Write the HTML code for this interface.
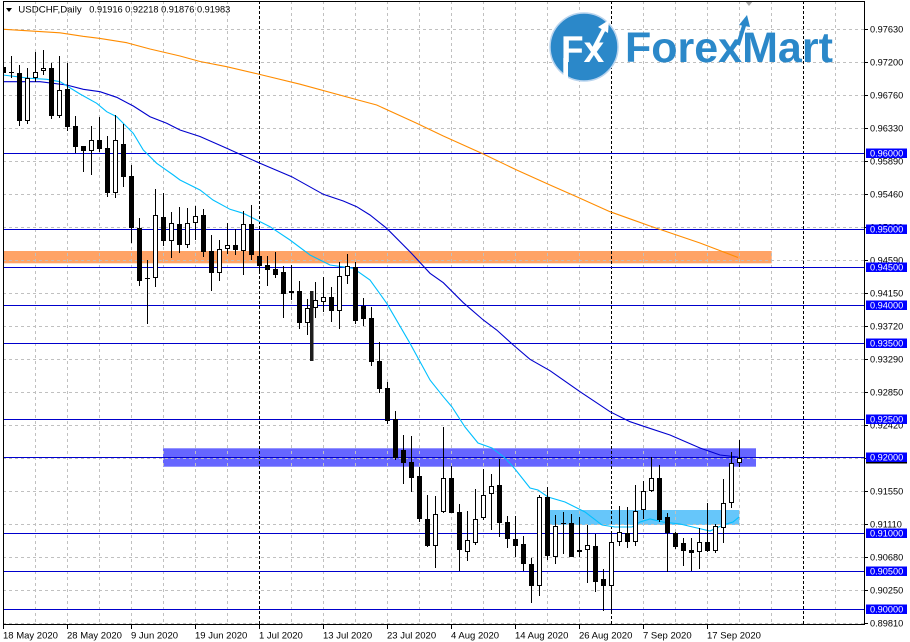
<!DOCTYPE html>
<html><head><meta charset="utf-8">
<style>
html,body{margin:0;padding:0;background:#fff;width:910px;height:642px;overflow:hidden;}
svg{display:block;}
text{font-family:"Liberation Sans",Arial,sans-serif;}
.ax{font-size:9.2px;fill:#000;}
.bl{font-size:9.2px;fill:#fff;}
.dt{font-size:9.5px;fill:#000;}
</style></head><body>
<svg id="c" width="910" height="642" viewBox="0 0 910 642" xmlns="http://www.w3.org/2000/svg">
<defs><clipPath id="pl"><rect x="4" y="2" width="860" height="622.5"/></clipPath></defs>
<rect x="0" y="0" width="910" height="642" fill="#fff"/>
<g clip-path="url(#pl)">
  <!-- bands -->
  <rect x="3" y="251" width="768.7" height="12.3" fill="#ffa366"/>
  <rect x="163" y="448.3" width="593" height="18.4" fill="#6666ff"/>
  <rect x="550" y="510" width="189.3" height="15" fill="#66c6fa"/>
  <g id="grid"></g>
  <g id="hl" stroke="#0000cc" stroke-width="1"></g>
  <!-- logo -->
  <circle cx="584" cy="47" r="34" fill="#2b88c9" stroke="#b9d4ee" stroke-width="1.5"/>
  <text x="561" y="62" font-size="37" font-weight="bold" fill="#fff">Fx</text>
  <rect x="563.3" y="58" width="4.7" height="24" fill="#fff"/>
  <line x1="592" y1="52" x2="604" y2="29" stroke="#fff" stroke-width="4"/>
  <polygon points="598,27 609,20 608,33" fill="#fff"/>
  <text x="625" y="62" font-size="43" font-weight="bold" fill="#2b88c9">ForexMart</text>
  <line x1="738" y1="45" x2="744.5" y2="24" stroke="#2b88c9" stroke-width="4"/>
  <polygon points="739,25 747,15 750,27" fill="#2b88c9"/>
  <polygon points="745,1 753,1 749,6" fill="#a8a8a8"/>
  <!-- moving averages -->
  <polyline fill="none" stroke="#ff8c00" stroke-width="1.1" points="3,29.3 40,31.6 60,32.8 83,36.3 100,38.4 126.7,42.7 150,49 180,56 200,61.5 226.7,66.7 258,74 300,84.2 358,100 376.7,105 416.7,123.3 443.3,136 483.3,154 516.7,170 550,185 576.7,196.7 610,211.7 650,226 700,243 738,257.5"/>
  <polyline fill="none" stroke="#0000cd" stroke-width="1.1" points="3,81.7 40,81.7 66.7,85 83.3,89.3 100,91.7 116.7,97.3 133.3,106 150,116.7 166.7,123.3 180,130 200,136.5 226.7,148.3 260,163.3 291.7,176.7 323.3,194.3 343.3,201 356.7,206.7 370,215 386.7,228.3 410,251.7 430,273.3 443.3,282.7 463.3,302.7 483.3,320 496.7,330 513.3,345 530,359.3 550,370.7 580,391.7 610,411.7 630,421.7 646.7,427.3 670,435 700,448 720,455 738,457"/>
  <polyline fill="none" stroke="#00bfff" stroke-width="1.1" points="3,75 30,78.3 46.7,79.3 60,81.7 80,94 96.7,103.3 106.7,111.7 116.7,116.7 133.3,133.3 143.3,150 156.7,163.3 173.3,175 180,180 200,190 213,200 230,209.3 243.3,213.3 270,226.7 290,240 310,255 330,265 353.3,268.3 370,280 386.7,303.3 410,343.3 430,380 443.3,396.7 452,407 465,427 478,443 492,448 505,458 515,469 530,488 538,490 548,497 565,502 585,512 602,525 615,527 632,527 640,522 650,519 663,522 680,524 697,528 710,531 723,525 733,522 739,517"/>
  <rect x="310" y="291" width="3.5" height="70" fill="#1e1e1e"/>
  <g id="cd"></g>
</g>
<!-- frame -->
<rect x="3.5" y="1.5" width="861" height="623" fill="none" stroke="#000" stroke-width="1"/>
<g id="ticks" stroke="#000" stroke-width="1"></g>
<!-- title -->
<polygon points="6,8 12,8 9,12" fill="#000"/>
<text x="18.3" y="12.7" font-size="9.5" fill="#000" textLength="63.4" lengthAdjust="spacingAndGlyphs">USDCHF,Daily</text>
<text x="89.3" y="12.7" font-size="9.5" fill="#000" textLength="141" lengthAdjust="spacingAndGlyphs">0.91916 0.92218 0.91876 0.91983</text>
<!-- right axis labels -->
<g class="ax">
<text x="870" y="32.5">0.97630</text>
<text x="870" y="65.5">0.97200</text>
<text x="870" y="98.5">0.96760</text>
<text x="870" y="131.5">0.96330</text>
<text x="870" y="164.5">0.95890</text>
<text x="870" y="197.5">0.95460</text>
<text x="870" y="230.5">0.95020</text>
<text x="870" y="263.5">0.94590</text>
<text x="870" y="296.5">0.94150</text>
<text x="870" y="329.5">0.93720</text>
<text x="870" y="362.5">0.93290</text>
<text x="870" y="395.5">0.92850</text>
<text x="870" y="428.5">0.92420</text>
<text x="870" y="461.5">0.91980</text>
<text x="870" y="494.5">0.91550</text>
<text x="870" y="527.5">0.91110</text>
<text x="870" y="560.5">0.90680</text>
<text x="870" y="593.5">0.90250</text>
<text x="870" y="626.5">0.89810</text>
</g>
<g fill="#0000ff">
<rect x="866" y="148.5" width="41" height="9.5"/>
<rect x="866" y="224.5" width="41" height="9.5"/>
<rect x="866" y="262.5" width="41" height="9.5"/>
<rect x="866" y="300.5" width="41" height="9.5"/>
<rect x="866" y="338.5" width="41" height="9.5"/>
<rect x="866" y="414.5" width="41" height="9.5"/>
<rect x="866" y="452.5" width="41" height="9.5"/>
<rect x="866" y="528.5" width="41" height="9.5"/>
<rect x="866" y="566.5" width="41" height="9.5"/>
<rect x="866" y="604.5" width="41" height="9.5"/>
</g>
<rect x="866" y="462" width="41" height="1.5" fill="#000"/>
<g class="bl">
<text x="870" y="156.5">0.96000</text>
<text x="870" y="232.5">0.95000</text>
<text x="870" y="270.5">0.94500</text>
<text x="870" y="308.5">0.94000</text>
<text x="870" y="346.5">0.93500</text>
<text x="870" y="422.5">0.92500</text>
<text x="870" y="460.5">0.92000</text>
<text x="870" y="536.5">0.91000</text>
<text x="870" y="574.5">0.90500</text>
<text x="870" y="612.5">0.90000</text>
</g>
<!-- date labels -->
<g class="dt">
<text x="3" y="638.5">18 May 2020</text>
<text x="67" y="638.5">28 May 2020</text>
<text x="131" y="638.5">9 Jun 2020</text>
<text x="195" y="638.5">19 Jun 2020</text>
<text x="259" y="638.5">1 Jul 2020</text>
<text x="323" y="638.5">13 Jul 2020</text>
<text x="387" y="638.5">23 Jul 2020</text>
<text x="451" y="638.5">4 Aug 2020</text>
<text x="515" y="638.5">14 Aug 2020</text>
<text x="579" y="638.5">26 Aug 2020</text>
<text x="643" y="638.5">7 Sep 2020</text>
<text x="707" y="638.5">17 Sep 2020</text>
</g>
</svg>
<script>
(function(){
var NS="http://www.w3.org/2000/svg";
function el(p,tag,a){var e=document.createElementNS(NS,tag);for(var k in a)e.setAttribute(k,a[k]);p.appendChild(e);return e;}
var grid=document.getElementById('grid');
var hrows=[29,62,95,128,161,194,227,260,293,326,359,392,425,458,491,524,557,590,623];
hrows.forEach(function(r){el(grid,'line',{x1:3,x2:864,y1:r+0.5,y2:r+0.5,stroke:'#c0c0c0','stroke-width':1,'stroke-dasharray':'3,3'});});
var seps={83:1,259:1,443:1,611:1,803:1};
for(var k=1;k<=26;k++){var x=3+32*k;
 if(seps[x]) el(grid,'line',{x1:x+0.5,x2:x+0.5,y1:1,y2:625,stroke:'#000','stroke-width':1,'stroke-dasharray':'3,2'});
 else el(grid,'line',{x1:x+0.5,x2:x+0.5,y1:1,y2:625,stroke:'#c0c0c0','stroke-width':1,'stroke-dasharray':'3,3'});
}
var hl=document.getElementById('hl');
[153,229,267,305,343,419,457,533,571,609].forEach(function(r){el(hl,'line',{x1:3,x2:865,y1:r+0.5,y2:r+0.5});});
var ticks=document.getElementById('ticks');
hrows.forEach(function(r){el(ticks,'line',{x1:864,x2:868,y1:r+0.5,y2:r+0.5});});
for(var j=0;j<12;j++){var tx=3+64*j+0.5;el(ticks,'line',{x1:tx,x2:tx,y1:625,y2:629});}
var C=[
[32,67,73,96,0],[56,71.5,72.5,78,0],[65,72.7,120.7,125.7,0],[68,78,120.7,124,1],[51.7,72,78,81.7,1],
[50,68,71,75,1],[63,68,115.7,119,0],[56,90,115.7,117.7,1],[62.7,89,126.7,131,0],[116,126,146.7,152.7,0],
[146,146,150.7,171.7,0],[126,140,150.7,175,1],[117,140,149,151.7,0],[136,148,192.7,196.7,0],[115,140,192.7,198.3,1],
[124,144,176.7,186.7,0],[165,176,227.7,243.3,0],[218,228,280.7,286,0],[260,277.7,279.3,324,0],[189,215,278.3,286.7,1],
[193,216.7,240.7,245.7,0],[211.7,223.3,240.7,258,1],[206.7,224,245,253.3,0],[208,223.3,245,248,1],[206,216,223.3,240,1],
[209,215,251.7,256.7,0],[235,251,272.7,290.7,0],[240,249.3,273.3,280.7,1],[223.3,245,249.3,254,1],[229.3,245,250,255,0],
[211,224,250.7,275,1],[205,224,255,260,0],[233.3,256,265.7,273.3,0],[256,265,270,286,0],[251.7,269,275,277.7,0],
[265.7,271.7,294,317.7,0],[265,291,293.3,300,1],[281,291,322.7,329,0],[299.3,308.3,322.7,335,1],[282.3,300,308.3,317.7,1],
[277,297.3,302.3,311.7,1],[287.3,297.3,310.7,321.7,0],[262.3,276,310.7,329,1],[254,266,275.7,284,1],[261.7,267.3,321,324.3,0],
[298.3,305.7,319,326,0],[307.3,318.3,361.7,365.7,0],[342,361,389,392.5,0],[382,388.3,420.7,424,0],[410.7,419.3,458.3,460,0],
[435,450,462.7,484,0],[436,462,477.7,491.7,0],[466.7,475.7,519,521.7,0],[495,519,545.7,546.7,0],[496,514,545.7,567.7,1],
[426.7,478.3,511.7,513.3,1],[466,478.3,513.3,513.3,0],[504,512.3,550,571,0],[511,540,551.7,560.7,1],[489.3,519.3,542.7,545,1],
[469.3,495,517.7,520,1],[474,486,494.3,530,1],[459.3,485,522.7,536.7,0],[516,522.3,539.3,547.5,0],[516,539,545.7,556.7,0],
[536,544,564,570.7,0],[558.3,564,585.7,602.7,0],[495,497.3,585.7,595.7,1],[486.7,497.3,556,560,0],[515,526,556.7,564,1],
[511.7,523,524.3,554,0],[514,523.3,556.7,557.3,0],[517.3,550,552.3,556.7,1],[525.3,545.3,550,583.3,1],[534,546,581.7,591.7,0],
[569.3,579,585.7,610.7,0],[533.3,542.3,585.7,610.7,1],[506,532.3,542.3,546,1],[506.7,533.3,542.3,547.7,0],[485,511,542.3,545.7,1],
[481,491,510,519,1],[457.3,478.3,491,491.7,1],[465,477.7,520,522.3,0],[513.3,517.3,533.3,572.3,0],[532,533.3,546.7,549,0],
[538.3,542.7,551,565.7,0],[538.3,550,552.7,571,0],[528.3,542.3,551.7,569,1],[502.7,542.3,551,551.7,0],[524.3,526,551,553.3,1],
[479,503.3,528.3,543.3,1],[452.3,463.3,502.7,507.7,1],[440,458.3,463.3,466.7,1]
];
var cd=document.getElementById('cd');
C.forEach(function(c,i){
 var p=3+8*i;
 var h=Math.round(c[0]),t=Math.round(c[1]),b=Math.round(c[2]),l=Math.round(c[3]);
 if(b-t<1)b=t+1;
 el(cd,'rect',{x:p,y:h,width:1,height:Math.max(1,l-h),fill:'#000'});
 el(cd,'rect',{x:p-2,y:t,width:5,height:b-t,fill:'#000'});
 if(c[4]&&b-t>2) el(cd,'rect',{x:p-1,y:t+1,width:3,height:b-t-2,fill:'#fff'});
});
})();
</script>
</body></html>
